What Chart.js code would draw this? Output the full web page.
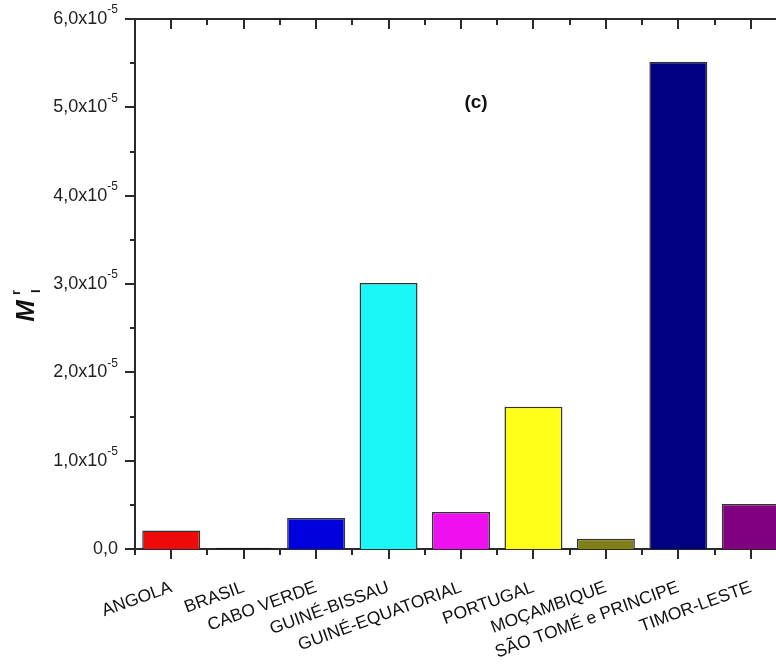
<!DOCTYPE html>
<html>
<head>
<meta charset="utf-8">
<script src="https://cdn.jsdelivr.net/npm/chart.js@4.4.1/dist/chart.umd.min.js"></script>
<style>
    html, body { margin: 0; padding: 0; overflow: hidden; background: #fff; }
    #chartBox { width: 790px; height: 670px; }
</style>
</head>
<body>
<div id="chartBox"><canvas id="mrChart" width="790" height="670"></canvas></div>
<script>
const categories = ['ANGOLA', 'BRASIL', 'CABO VERDE', 'GUINÉ-BISSAU', 'GUINÉ-EQUATORIAL',
    'PORTUGAL', 'MOÇAMBIQUE', 'SÃO TOMÉ e PRINCIPE', 'TIMOR-LESTE'];
const values = [2.1e-6, 1.5e-7, 3.5e-6, 3.01e-5, 4.2e-6, 1.61e-5, 1.15e-6, 5.515e-5, 5.1e-6];
const barColors = ['#ee0a0a', '#111111', '#0000dd', '#1af5f5', '#ee10ee',
    '#ffff1a', '#808018', '#000080', '#800080'];
const yTickValues = [0, 1e-5, 2e-5, 3e-5, 4e-5, 5e-5, 6e-5];
const yTickMantissa = ['0,0', '1,0x10', '2,0x10', '3,0x10', '4,0x10', '5,0x10', '6,0x10'];
const yTickExponent = '-5';

const axisColor = '#2a2a2a';
const fontFamily = '"Liberation Sans", Arial, sans-serif';

// axes frame, tick marks, y labels with superscripts, title and (c)
const decorPlugin = {
    id: 'decor',
    afterDraw(chart) {
        const ctx = chart.ctx;
        const area = chart.chartArea;
        const x = chart.scales.x;
        const y = chart.scales.y;
        ctx.save();
        ctx.strokeStyle = axisColor;
        ctx.lineWidth = 2;

        // top axis line
        ctx.beginPath();
        ctx.moveTo(area.left - 1, area.top);
        ctx.lineTo(area.right, area.top);
        ctx.stroke();

        // x ticks, bottom outward and top inward
        ctx.beginPath();
        for (let i = 0; i < categories.length; i++) {
            const px = Math.round(x.getPixelForValue(i));
            ctx.moveTo(px, area.bottom);
            ctx.lineTo(px, area.bottom + 10);
            ctx.moveTo(px, area.top);
            ctx.lineTo(px, area.top + 10);
            const mx = Math.round(x.getPixelForValue(i + 0.5));
            ctx.moveTo(mx, area.bottom);
            ctx.lineTo(mx, area.bottom + 6);
            ctx.moveTo(mx, area.top);
            ctx.lineTo(mx, area.top + 6);
        }
        const edge = Math.round(x.getPixelForValue(-0.5));
        ctx.moveTo(edge, area.bottom);
        ctx.lineTo(edge, area.bottom + 6);

        // y ticks, outward
        for (let i = 0; i < yTickValues.length; i++) {
            const py = Math.round(y.getPixelForValue(yTickValues[i]));
            ctx.moveTo(area.left, py);
            ctx.lineTo(area.left - 10, py);
            if (i < yTickValues.length - 1) {
                const my = Math.round(y.getPixelForValue(yTickValues[i] + 0.5e-5));
                ctx.moveTo(area.left, my);
                ctx.lineTo(area.left - 5, my);
            }
        }
        ctx.stroke();

        // y tick labels
        ctx.fillStyle = '#222';
        ctx.textBaseline = 'middle';
        for (let i = 0; i < yTickValues.length; i++) {
            const py = y.getPixelForValue(yTickValues[i]);
            const rightX = 118;
            if (i === 0) {
                ctx.font = '18px ' + fontFamily;
                ctx.textAlign = 'right';
                ctx.fillText(yTickMantissa[i], rightX, py);
                continue;
            }
            ctx.font = '12px ' + fontFamily;
            const supW = ctx.measureText(yTickExponent).width;
            ctx.textAlign = 'left';
            ctx.fillText(yTickExponent, rightX - supW, py - 9);
            ctx.font = '18px ' + fontFamily;
            ctx.textAlign = 'right';
            ctx.fillText(yTickMantissa[i], rightX - supW, py);
        }

        // y axis title: M with sub I and sup r
        ctx.save();
        ctx.translate(27, 311);
        ctx.rotate(-Math.PI / 2);
        ctx.fillStyle = '#111';
        ctx.textAlign = 'center';
        ctx.textBaseline = 'middle';
        ctx.font = 'italic bold 26px ' + fontFamily;
        ctx.fillText('M', 0, 0);
        ctx.font = 'bold 13px ' + fontFamily;
        ctx.textAlign = 'left';
        ctx.fillText('r', 16, -11);
        ctx.fillText('I', 18, 9);
        ctx.restore();

        // panel tag
        ctx.font = 'bold 19px ' + fontFamily;
        ctx.fillStyle = '#111';
        ctx.textAlign = 'center';
        ctx.textBaseline = 'middle';
        ctx.fillText('(c)', 476, 103);
        ctx.restore();
    }
};

new Chart(document.getElementById('mrChart').getContext('2d'), {
    type: 'bar',
    data: {
        labels: categories,
        datasets: [{
            data: values,
            backgroundColor: barColors,
            borderColor: '#333',
            borderWidth: 1.5,
            barPercentage: 0.8,
            categoryPercentage: 1.0
        }]
    },
    options: {
        responsive: false,
        animation: false,
        layout: { padding: { top: 19, right: 3, left: 0, bottom: 0 } },
        plugins: {
            legend: { display: false },
            tooltip: { enabled: false }
        },
        scales: {
            x: {
                grid: { display: false, drawTicks: false },
                border: { display: true, color: axisColor, width: 2 },
                ticks: {
                    color: '#111',
                    font: { family: fontFamily, size: 17.5 },
                    minRotation: 20,
                    maxRotation: 20,
                    autoSkip: false,
                    padding: 28
                },
                afterFit(scale) { scale.height = 121; }
            },
            y: {
                min: 0,
                max: 6e-5,
                ticks: { display: false, stepSize: 1e-5 },
                grid: { display: false, drawTicks: false },
                border: { display: true, color: axisColor, width: 2 },
                afterFit(scale) { scale.width = 135; }
            }
        }
    },
    plugins: [decorPlugin]
});
</script>
</body>
</html>
